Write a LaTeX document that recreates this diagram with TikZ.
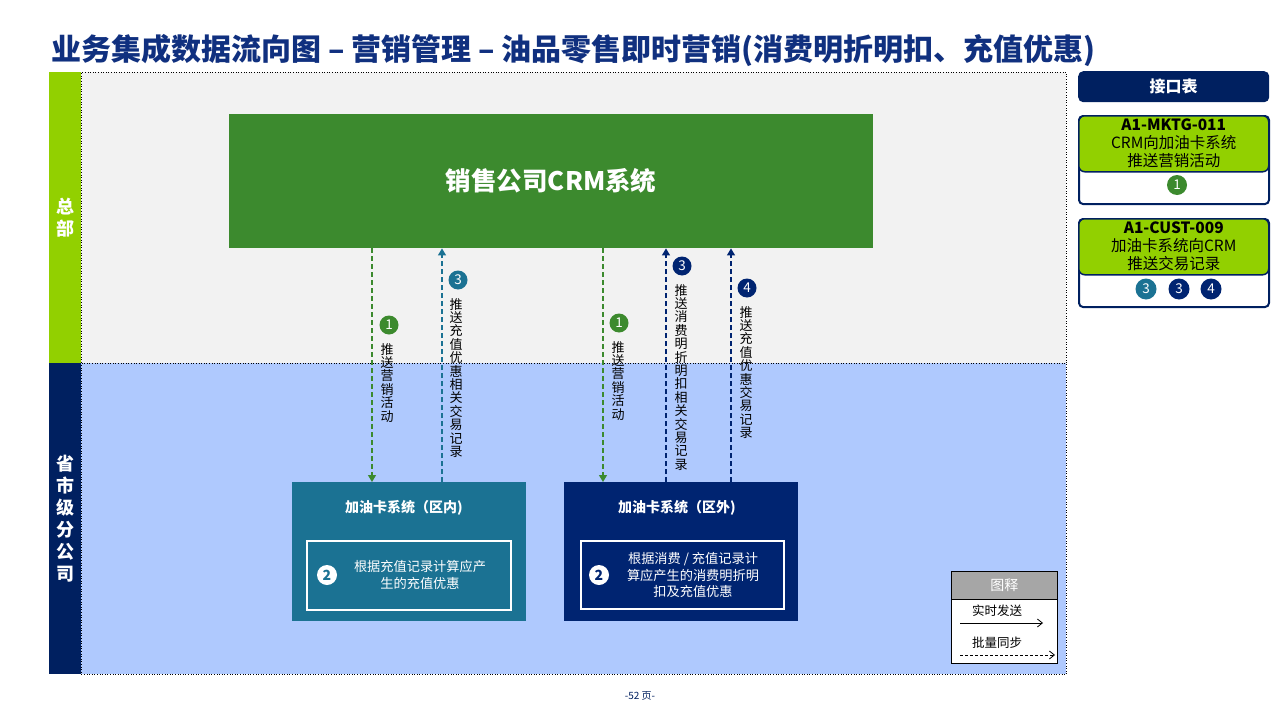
\documentclass[tikz,border=0pt]{standalone}
\usepackage{fontspec}
\setmainfont{Noto Sans CJK SC}
\usetikzlibrary{arrows.meta}
\definecolor{navy}{HTML}{002060}
\definecolor{navyB}{HTML}{002471}
\definecolor{limeg}{HTML}{92D000}
\definecolor{crmg}{HTML}{3C8A2E}
\definecolor{tealb}{HTML}{1B7293}
\definecolor{lblue}{HTML}{AFC9FE}
\definecolor{lgray}{HTML}{F2F2F2}
\definecolor{titlec}{HTML}{10307F}
\definecolor{legg}{HTML}{A6A6A6}
\begin{document}
\begin{tikzpicture}[x=1pt,y=-1pt,
  circ/.style={circle, minimum size=19pt, inner sep=0pt, text=white, font=\fontsize{13.5}{13.5}\selectfont},
  vlabel/.style={align=center, font=\fontsize{13}{13.4}\selectfont, inner sep=0pt, anchor=north},
  flow/.style={line width=1.3pt, dash pattern=on 5pt off 3pt, -{Triangle[length=7pt,width=8pt]}},
  sidebar/.style={draw=none, minimum width=32pt, text=white, align=center, font=\fontsize{18}{22}\selectfont\bfseries, inner sep=0pt},
  area/.style={draw=black, dotted, line width=0.6pt},
  sysbox/.style={draw=none, minimum width=234pt, minimum height=139pt, anchor=north west},
  innerbox/.style={draw=white, line width=1.6pt, anchor=north west},
  card/.style={draw=navy, line width=2pt, fill=white, rounded corners=4pt, minimum width=190pt, minimum height=88pt, anchor=north west},
  cardtop/.style={draw=navy, line width=1.5pt, fill=limeg, rounded corners=6pt, minimum width=190pt, minimum height=56pt, anchor=north west, align=center, inner sep=0pt, font=\fontsize{15.5}{18}\selectfont}
]
\useasboundingbox (0,0) rectangle (1280,720);
\fill[white] (0,0) rectangle (1280,720);

% title
\node[anchor=west, inner sep=0pt, text=titlec, font=\fontsize{30}{34}\selectfont\bfseries] (title) at (51,50)
  {业务集成数据流向图 – 营销管理 – 油品零售即时营销(消费明折明扣、充值优惠)};

% areas
\node[area, fill=lgray, minimum width=985pt, minimum height=291pt, anchor=north west, inner sep=0pt] (top) at (81,72) {};
\node[area, fill=lblue, minimum width=985pt, minimum height=311pt, anchor=north west, inner sep=0pt] (bot) at (81,363) {};
\node[sidebar, fill=limeg, minimum height=291pt, anchor=north west] (hq) at (49,72) {总\\部};
\node[sidebar, fill=navy, minimum height=311pt, anchor=north west] (prov) at (49,363) {省\\市\\级\\分\\公\\司};

% CRM
\node[fill=crmg, minimum width=644pt, minimum height=134pt, anchor=north west, text=white, font=\fontsize{25.5}{28}\selectfont\bfseries, inner sep=0pt] (crm) at (229,114) {销售公司CRM系统};

% systems
\node[sysbox, fill=tealb] (boxA) at (292,482) {};
\node[sysbox, fill=navyB] (boxB) at (564,482) {};
\node[text=white, font=\fontsize{14}{16}\selectfont\bfseries, inner sep=0pt] (tA) at (404,508) {加油卡系统（区内)};
\node[text=white, font=\fontsize{14}{16}\selectfont\bfseries, inner sep=0pt] (tB) at (677,508) {加油卡系统（区外)};
\node[innerbox, minimum width=204pt, minimum height=69pt] (inA) at (306,540) {};
\node[innerbox, minimum width=203pt, minimum height=68pt] (inB) at (580,540) {};
\node[circle, fill=white, minimum size=20pt, inner sep=0pt, text=tealb, font=\fontsize{14}{14}\selectfont\bfseries] (c2a) at (327,575) {2};
\node[circle, fill=white, minimum size=20pt, inner sep=0pt, text=navyB, font=\fontsize{14}{14}\selectfont\bfseries] (c2b) at (599,575) {2};
\node[text=white, align=center, font=\fontsize{13.2}{16.5}\selectfont, inner sep=0pt] (dA) at (420,575) {根据充值记录计算应产\\生的充值优惠};
\node[text=white, align=center, font=\fontsize{13.2}{16.5}\selectfont, inner sep=0pt] (dB) at (693,575) {根据消费 / 充值记录计\\算应产生的消费明折明\\扣及充值优惠};

% flows
\coordinate (x1) at (372,0);
\coordinate (x2) at (442,0);
\coordinate (x3) at (603,0);
\coordinate (x4) at (666,0);
\coordinate (x5) at (731,0);
\draw[flow, color=crmg] (crm.south -| x1) -- (boxA.north -| x1);
\draw[flow, color=tealb] (boxA.north -| x2) -- (crm.south -| x2);
\draw[flow, color=crmg] (crm.south -| x3) -- (boxB.north -| x3);
\draw[flow, color=navyB] (boxB.north -| x4) -- (crm.south -| x4);
\draw[flow, color=navyB] (boxB.north -| x5) -- (crm.south -| x5);

\node[circ, fill=crmg] (f1a) at (389,325) {1};
\node[vlabel] (l1a) at (387,343) {推\\送\\营\\销\\活\\动};
\node[circ, fill=tealb] (f3a) at (458,280) {3};
\node[vlabel] (l3a) at (456,298) {推\\送\\充\\值\\优\\惠\\相\\关\\交\\易\\记\\录};
\node[circ, fill=crmg] (f1b) at (619,323) {1};
\node[vlabel] (l1b) at (618,341) {推\\送\\营\\销\\活\\动};
\node[circ, fill=navyB] (f3b) at (682,266) {3};
\node[vlabel] (l3b) at (681,284) {推\\送\\消\\费\\明\\折\\明\\扣\\相\\关\\交\\易\\记\\录};
\node[circ, fill=navyB] (f4b) at (747,288) {4};
\node[vlabel] (l4b) at (746,306) {推\\送\\充\\值\\优\\惠\\交\\易\\记\\录};

% legend
\node[draw=black, line width=0.8pt, fill=white, minimum width=106pt, minimum height=92pt, anchor=north west, inner sep=0pt] (leg) at (951,571) {};
\node[draw=black, line width=0.8pt, fill=legg, minimum width=106pt, minimum height=28pt, anchor=north west, inner sep=0pt, text=white, font=\fontsize{14}{16}\selectfont] (legh) at (951,571) {图释};
\node[inner sep=0pt, font=\fontsize{12.5}{14}\selectfont] (lg1) at (997,611) {实时发送};
\node[inner sep=0pt, font=\fontsize{12.5}{14}\selectfont] (lg2) at (997,643) {批量同步};
\coordinate (la1) at (960,623);
\coordinate (lb1) at (1043,623);
\coordinate (la2) at (960,655);
\coordinate (lb2) at (1055,655);
\draw[line width=0.8pt, -{Straight Barb[length=5pt,width=8pt]}] (la1) -- (lb1);
\draw[line width=0.8pt, dash pattern=on 3pt off 2pt, -{Straight Barb[length=5pt,width=8pt]}] (la2) -- (lb2);

% interface panel
\node[fill=navy, rounded corners=5pt, minimum width=191pt, minimum height=31pt, anchor=north west, inner sep=0pt, text=white, font=\fontsize{16}{18}\selectfont\bfseries] (ifh) at (1078,71) {接口表};
\node[card] (card1) at (1078,115) {};
\node[cardtop] (ct1) at (1078,115) {{\bfseries A1-MKTG-011}\\CRM向加油卡系统\\推送营销活动};
\node[circ, fill=crmg, minimum size=20pt] (k1) at (1177,185) {1};
\node[card] (card2) at (1078,218) {};
\node[cardtop] (ct2) at (1078,218) {{\bfseries A1-CUST-009}\\加油卡系统向CRM\\推送交易记录};
\node[circ, fill=tealb, minimum size=21pt] (k3a) at (1146,289) {3};
\node[circ, fill=navyB, minimum size=21pt] (k3b) at (1179,289) {3};
\node[circ, fill=navyB, minimum size=21pt] (k4) at (1211,289) {4};

% page number
\node[inner sep=0pt, text=navy, font=\fontsize{10}{12}\selectfont] (pg) at (640,696) {-52 页-};
\end{tikzpicture}
\end{document}
